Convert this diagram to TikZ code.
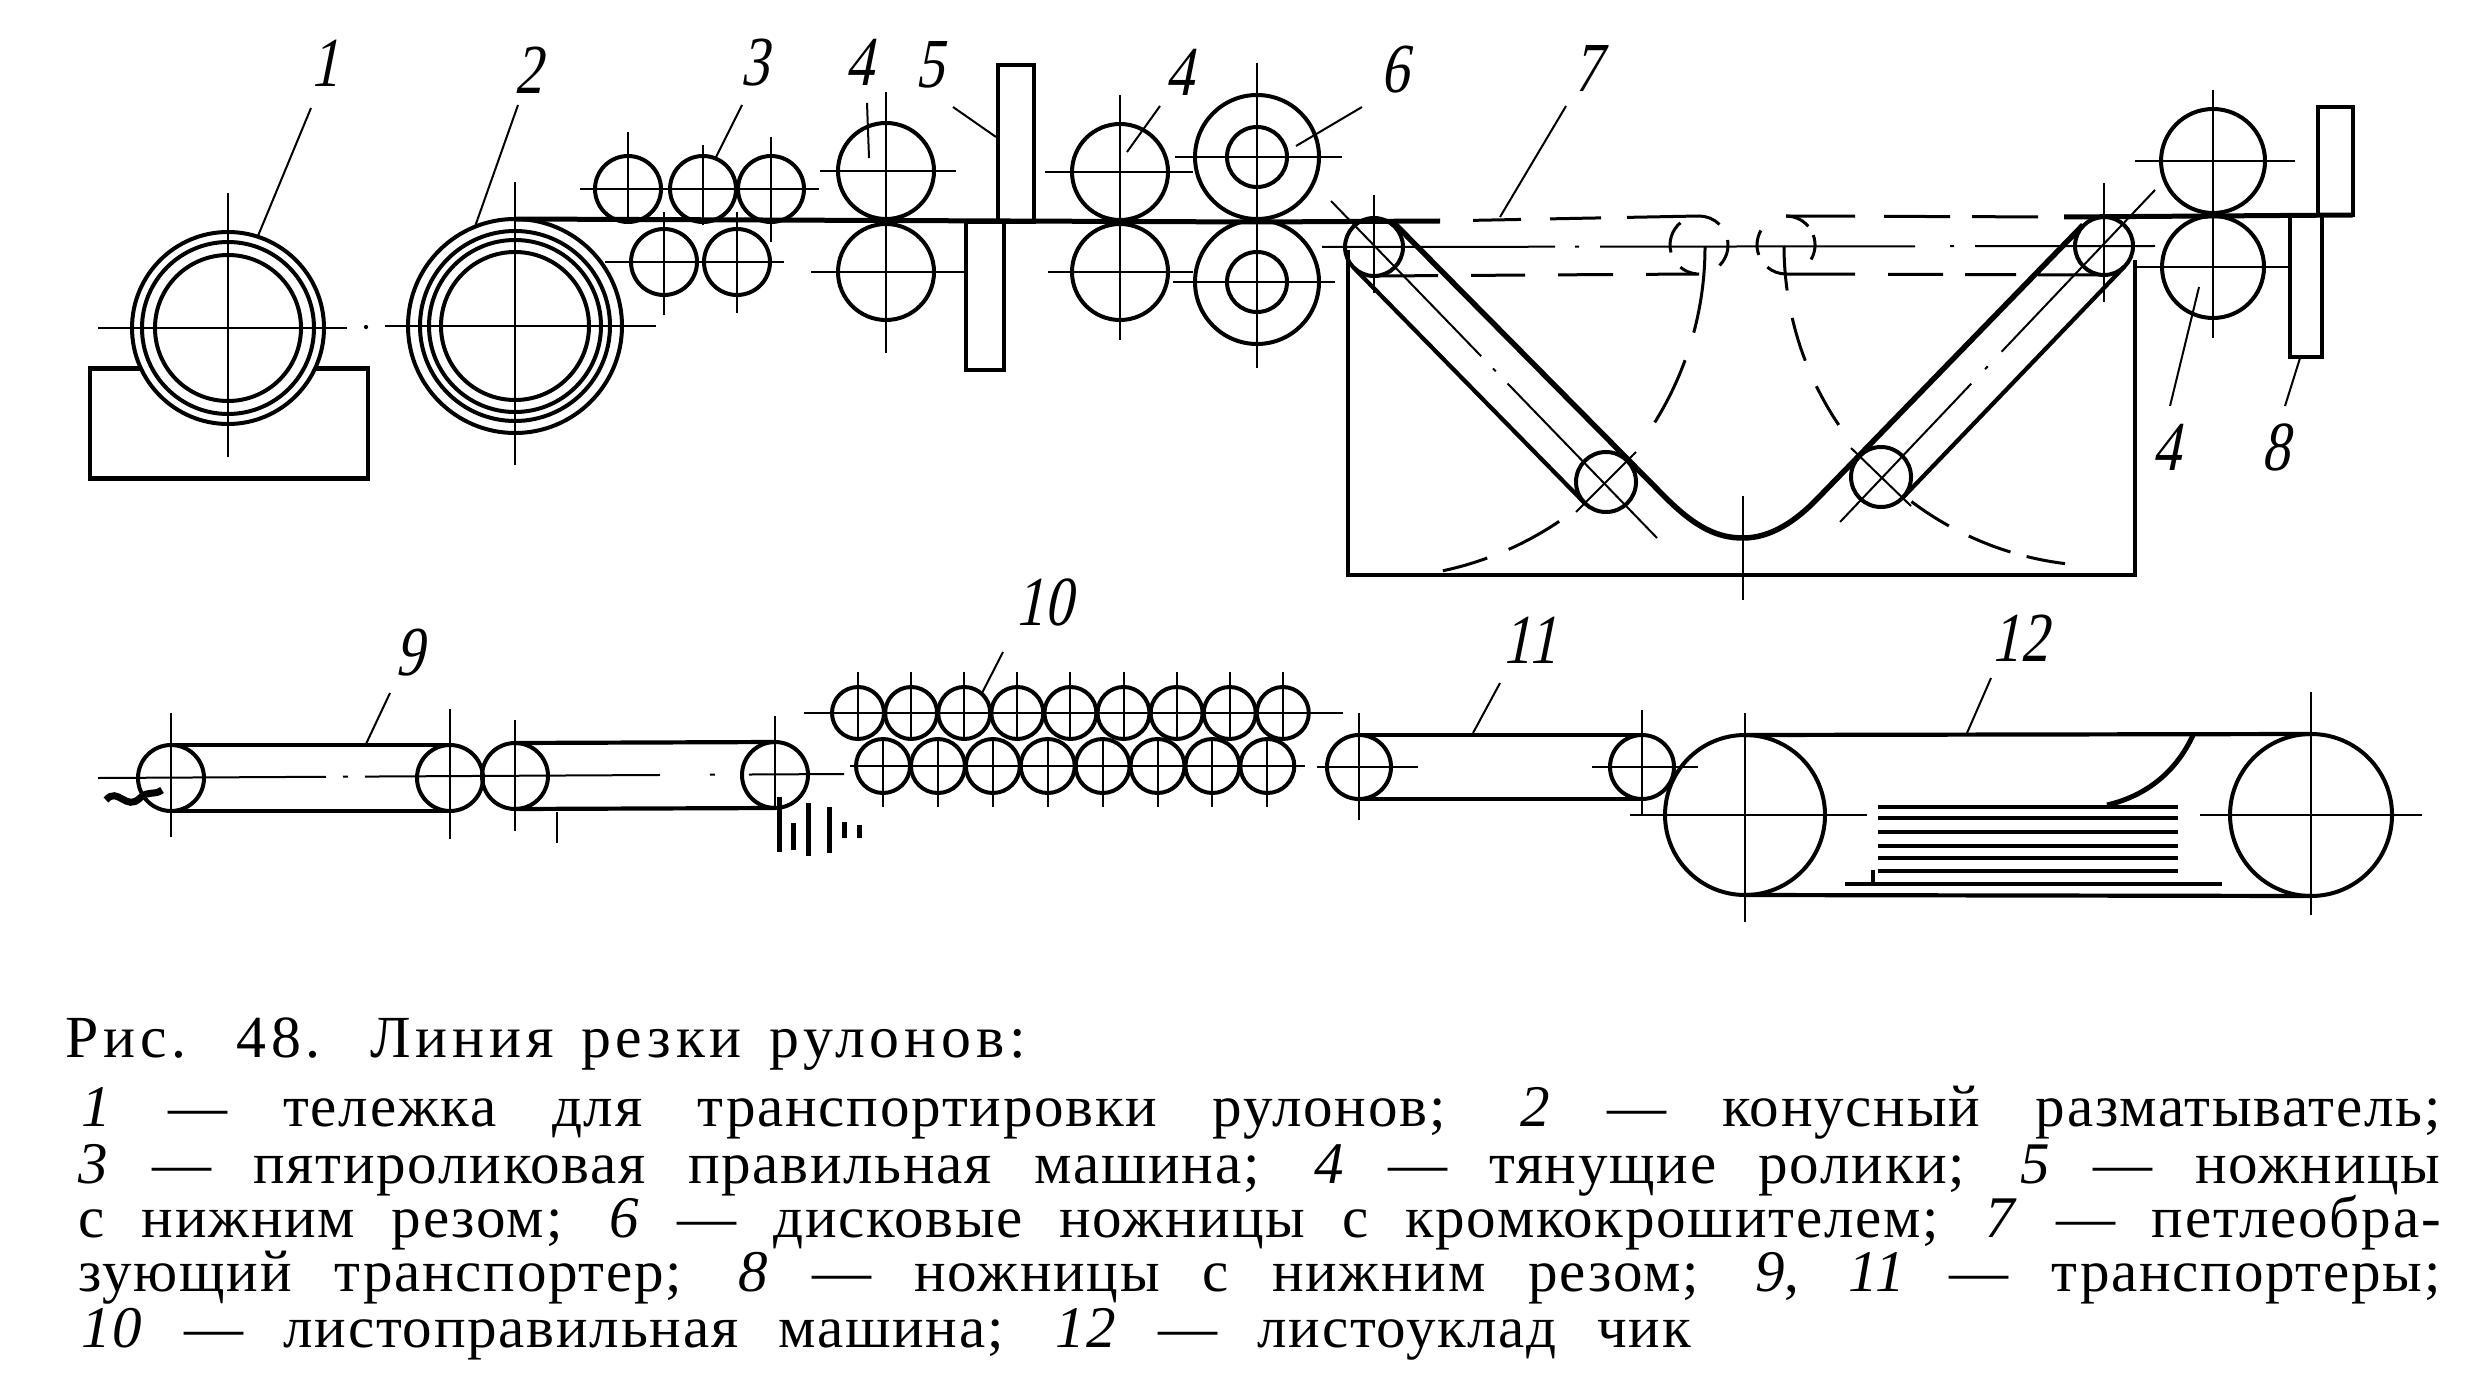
\documentclass[tikz,border=0pt]{standalone}
\usepackage{fontspec}
\setmainfont{Liberation Serif}
\newfontfamily\capfont[LetterSpace=3]{Liberation Serif}
\newfontfamily\titlefont[LetterSpace=8]{Liberation Serif}
\newfontfamily\tagfont[FakeStretch=0.8,FakeSlant=0.2]{Liberation Serif}
\usetikzlibrary{positioning}
\tikzset{	x=0.1mm, y=-0.1mm,
	roller/.style={
		circle,
		draw,
		line width=0.4mm,
		inner sep=0pt,
		outer sep=0pt,
		minimum size=#1},
	swing/.style={
		circle,
		inner sep=0pt,
		outer sep=0pt,
		minimum size=5.8mm},
	blade/.style={
		rectangle,
		draw,
		line width=0.4mm,
		inner sep=0pt},
	axis/.style={line width=0.2mm},
	leader/.style={line width=0.2mm},
	belt/.style={line width=0.42mm},
	strip/.style={line width=0.5mm},
	longdash/.style={line width=0.3mm},
	swingline/.style={line width=0.3mm},
	sheet/.style={line width=0.35mm},
	tagnum/.style={font=\tagfont\fontsize{20}{20}\selectfont, inner sep=0pt},
	capline/.style={font=\capfont\fontsize{16.8}{18}\selectfont, anchor=base west, inner sep=0pt},
	captitle/.style={font=\titlefont\fontsize{17}{18}\selectfont, anchor=base west, inner sep=0pt}
}
\newcommand{\hax}[3]{\draw[axis] (#1.center) ++(-#2,0) -- ++({#2+#3},0);}
\newcommand{\vax}[3]{\draw[axis] (#1.center) ++(0,-#2) -- ++(0,{#2+#3});}
\newcommand{\sweep}[4]{\draw[swingline] (#1.center) ++(#2:#4) arc[start angle=#2, end angle=#3, radius=#4];}
\newcommand{\num}[1]{\textit{#1}}

\begin{document}
\begin{tikzpicture}
	\useasboundingbox (0,0) rectangle (2490,1382);

	% coils
	\node[roller=19.2mm] (coilA) at (228,328) {};
	\node[roller=17.2mm] (coilB) at (coilA) {};
	\node[roller=14.6mm] (coilC) at (coilA) {};
	\node[roller=21.4mm] (drumA) at (515,326) {};
	\node[roller=19mm] (drumB) at (drumA) {};
	\node[roller=17.2mm] (drumC) at (drumA) {};
	\node[roller=14.8mm] (drumD) at (drumA) {};
	\draw[belt] (coilA.-155) -- ++(-51,0) -- ++(0,110) -- ++(278,0) -- ++(0,-110) -- (coilA.-25);
	\vax{coilA}{135}{129}
	\hax{coilA}{130}{119}
	\vax{drumA}{144}{139}
	\hax{drumA}{130}{141}
	\node[circle, fill, inner sep=0.15mm] (gap) at (366,327) {};

	% straightening rollers
	\node[roller=6.6mm] (ruA) at (628,189) {};
	\node[roller=6.6mm] (ruB) at (703,189) {};
	\node[roller=6.6mm] (ruC) at (771,189) {};
	\node[roller=6.6mm] (rlA) at (664,262) {};
	\node[roller=6.6mm] (rlB) at (737,262) {};
	\hax{ruA}{48}{191}
	\hax{rlA}{59}{120}
	\vax{ruA}{57}{34}
	\vax{ruB}{44}{36}
	\vax{ruC}{52}{53}
	\vax{rlA}{50}{53}
	\vax{rlB}{50}{51}

	% pull rollers and knives
	\node[roller=9.6mm] (pullA) at (886,171) {};
	\node[roller=9.6mm] (pullB) at (886,272) {};
	\vax{pullA}{79}{182}
	\hax{pullA}{66}{70}
	\hax{pullB}{75}{78}
	\node[blade, minimum width=3.6mm, minimum height=15.7mm] (kniA) at (1015.5,144) {};
	\node[blade, minimum width=3.8mm, minimum height=14.8mm] (kniB) at (984.5,296) {};

	\node[roller=9.6mm] (pullC) at (1120,172) {};
	\node[roller=9.6mm] (pullD) at (1120,272) {};
	\vax{pullC}{77}{168}
	\hax{pullC}{75}{73}
	\hax{pullD}{72}{73}
	\node[roller=12.4mm] (diskA) at (1257,157) {};
	\node[roller=6mm] (diskB) at (diskA) {};
	\node[roller=12.4mm] (diskC) at (1257,282) {};
	\node[roller=6mm] (diskD) at (diskC) {};
	\vax{diskA}{94}{211}
	\hax{diskA}{82}{85}
	\hax{diskC}{84}{78}

	% loop transporter
	\node[roller=5.8mm] (topL) at (1374,247) {};
	\node[roller=5.8mm] (topR) at (2104,246) {};
	\node[roller=6mm] (lowL) at (1606,482) {};
	\node[roller=6mm] (lowR) at (1881,477) {};
	\node[swing] (swL) at (1699,245) {};
	\node[swing] (swR) at (1786,245) {};
	\coordinate (stripA) at (1440,221);
	\coordinate (stripB) at (2064,217);
	\coordinate (stripE) at (2353,215);
	\draw[strip] (drumA.north) -- (1257,222) -- (stripA);
	\draw[strip] (stripB) -- (stripE);
	\draw[longdash, dash pattern=on 0mm off 3.3mm on 4.8mm off 2.9mm on 5.1mm off 2.6mm on 8mm] (stripA) -- (swL.north);
	\draw[longdash, dash pattern=on 6.9mm off 2.9mm on 6.6mm off 2.2mm on 6.6mm off 2.6mm on 1mm] (swR.north) -- (stripB);
	\draw[longdash, dash pattern=on 6.4mm off 3.3mm on 5.4mm off 3.3mm on 5.5mm off 3.3mm on 5.5mm] (topL.south) -- (swL.south);
	\draw[longdash, dash pattern=on 6.9mm off 3.3mm on 5.5mm off 2.2mm on 5.1mm off 2.2mm on 6.6mm] (swR.south) -- (topR.south);
	\coordinate (midA) at (1322,247);
	\coordinate (midB) at (2155,246);
	\draw[axis, dash pattern=on 23.3mm off 2mm on .4mm off 2.1mm on 31.5mm off 3.5mm on .4mm off 2.1mm on 18mm] (midA) -- (midB);

	\coordinate (uA) at (1393,222);
	\coordinate (uB) at (1665,497);
	\coordinate (uC) at (1743,538);
	\coordinate (uD) at (1818,498);
	\coordinate (uE) at (2083,225);
	\draw[line width=0.55mm] (uA) -- (uB) .. controls (1695,527) and (1717,538) .. (uC) .. controls (1770,538) and (1795,522) .. (uD) -- (uE);
	\draw[belt] (topL.-135) -- (lowL.-135);
	\draw[belt] (topR.-45) -- (lowR.-45);

	\coordinate (axA) at (1331,201);
	\coordinate (axB) at (1657,538);
	\coordinate (axC) at (2155,190);
	\coordinate (axD) at (1840,522);
	\draw[axis, dash pattern=on 21.6mm off 1.7mm on .4mm off 1.7mm on 22mm] (axA) -- (axB);
	\draw[axis, dash pattern=on 22.3mm off 2mm on .4mm off 2mm on 20mm] (axC) -- (axD);
	\vax{topL}{52}{46}
	\vax{topR}{63}{56}
	\draw[axis] (lowL.center) ++(30,-30) -- ++(-60,60);
	\draw[axis] (lowR.center) ++(-30,-29) -- ++(60,58);

	% swing paths
	\sweep{swL}{130}{195}{2.9mm}
	\sweep{swL}{10}{-45}{2.9mm}
	\sweep{swL}{90}{45}{2.9mm}
	\sweep{swL}{-130}{-95}{2.9mm}
	\sweep{swR}{150}{200}{2.9mm}
	\sweep{swR}{-130}{-90}{2.9mm}
	\sweep{swR}{90}{40}{2.9mm}
	\sweep{swR}{20}{-30}{2.9mm}
	\sweep{topL}{0}{-15}{33.1mm}
	\sweep{topL}{-20}{-32}{33.1mm}
	\sweep{topL}{-56}{-66}{33.1mm}
	\sweep{topL}{-70}{-78}{33.1mm}
	\sweep{topR}{180}{188}{32mm}
	\sweep{topR}{193}{201}{32mm}
	\sweep{topR}{206}{214}{32mm}
	\sweep{topR}{233}{241}{32mm}
	\sweep{topR}{245}{253}{32mm}
	\sweep{topR}{256}{263}{32mm}

	% frame
	\coordinate (frA) at (1348,250);
	\coordinate (frB) at (1348,575);
	\coordinate (frC) at (2135,575);
	\coordinate (frD) at (2135,260);
	\draw[belt] (frA) -- (frB) -- (frC) -- (frD);
	\vax{uC}{42}{62}

	% right pull rollers and knife
	\node[roller=10.4mm] (pullE) at (2213,161) {};
	\node[roller=10.2mm] (pullF) at (2213,267) {};
	\vax{pullE}{71}{177}
	\hax{pullE}{78}{82}
	\hax{pullF}{76}{77}
	\node[blade, minimum width=3.5mm, minimum height=10.8mm] (kniC) at (2335.5,161) {};
	\node[blade, minimum width=3.2mm, minimum height=14.2mm] (kniD) at (2306,286) {};

	% lower transporters
	\node[roller=6.6mm] (trA) at (171,778) {};
	\node[roller=6.6mm] (trB) at (450,778) {};
	\node[roller=6.6mm] (trC) at (515,776) {};
	\node[roller=6.6mm] (trD) at (775,775) {};
	\draw[belt] (trA.north) -- (trB.north);
	\draw[belt] (trA.south) -- (trB.south);
	\draw[belt] (trC.north) -- (trD.north);
	\draw[belt] (trC.south) -- (trD.south);
	\coordinate (lineA) at (98,778);
	\coordinate (lineB) at (844,774);
	\draw[axis, dash pattern=on 22.8mm off 1.7mm on .5mm off 1.7mm on 29.5mm off 5mm on .5mm off 3.4mm on 20mm] (lineA) -- (lineB);
	\vax{trA}{65}{59}
	\vax{trB}{69}{61}
	\vax{trC}{56}{55}
	\vax{trD}{59}{32}
	\coordinate (tickA) at (557,812);
	\coordinate (tickB) at (557,843);
	\draw[axis] (tickA) -- (tickB);
	\foreach \x/\a/\b in {779/797/852,793/823/850,808/803/856,829/807/853,844/822/838,859/825/838}
		\draw[line width=0.5mm] (\x,\a) -- (\x,\b);
	\draw[line width=0.7mm] (106,800) .. controls (118,786) and (126,812) .. (140,798) .. controls (148,790) and (154,796) .. (162,790);

	% leveller
	\begin{scope}[node distance=5.31mm]
		\node[roller=5.2mm] (upA) at (858,713) {};
		\node[roller=5.2mm, right of = upA] (upB) {};
		\node[roller=5.2mm, right of = upB] (upC) {};
		\node[roller=5.2mm, right of = upC] (upD) {};
		\node[roller=5.2mm, right of = upD] (upE) {};
		\node[roller=5.2mm, right of = upE] (upF) {};
		\node[roller=5.2mm, right of = upF] (upG) {};
		\node[roller=5.2mm, right of = upG] (upH) {};
		\node[roller=5.2mm, right of = upH] (upI) {};
	\end{scope}
	\begin{scope}[node distance=5.49mm]
		\node[roller=5.4mm] (dnA) at (883,766) {};
		\node[roller=5.4mm, right of = dnA] (dnB) {};
		\node[roller=5.4mm, right of = dnB] (dnC) {};
		\node[roller=5.4mm, right of = dnC] (dnD) {};
		\node[roller=5.4mm, right of = dnD] (dnE) {};
		\node[roller=5.4mm, right of = dnE] (dnF) {};
		\node[roller=5.4mm, right of = dnF] (dnG) {};
		\node[roller=5.4mm, right of = dnG] (dnH) {};
	\end{scope}
	\hax{upA}{54}{485}
	\hax{dnA}{33}{422}
	\vax{upA}{41}{27}
	\vax{upB}{41}{27}
	\vax{upC}{41}{27}
	\vax{upD}{41}{27}
	\vax{upE}{41}{27}
	\vax{upF}{41}{27}
	\vax{upG}{41}{27}
	\vax{upH}{41}{27}
	\vax{upI}{41}{27}
	\vax{dnA}{29}{41}
	\vax{dnB}{29}{41}
	\vax{dnC}{29}{41}
	\vax{dnD}{29}{41}
	\vax{dnE}{29}{41}
	\vax{dnF}{29}{41}
	\vax{dnG}{29}{41}
	\vax{dnH}{29}{41}

	% transporter and stacker
	\node[roller=6.4mm] (trE) at (1359,767) {};
	\node[roller=6.4mm] (trF) at (1642,767) {};
	\draw[belt] (trE.north) -- (trF.north);
	\draw[belt] (trE.south) -- (trF.south);
	\hax{trE}{42}{59}
	\hax{trF}{50}{56}
	\vax{trE}{54}{53}
	\vax{trF}{57}{48}
	\node[roller=16mm] (stkA) at (1745,815) {};
	\node[roller=16.2mm] (stkB) at (2311,815) {};
	\draw[belt] (stkA.north) -- (stkB.north);
	\draw[belt] (stkA.south) -- (stkB.south);
	\hax{stkA}{115}{122}
	\hax{stkB}{111}{111}
	\vax{stkA}{102}{107}
	\vax{stkB}{123}{100}
	\coordinate (chuA) at (2193,735);
	\coordinate (chuB) at (2107,805);
	\draw[line width=0.5mm] (chuA) .. controls (2178,768) and (2150,795) .. (chuB);
	\foreach \y in {807,818,832,846,858,871}
		\draw[sheet] (1878,\y) -- (2178,\y);
	\coordinate (sheetA) at (1845,884);
	\coordinate (sheetB) at (2222,884);
	\draw[sheet] (sheetA) -- (sheetB);
	\coordinate (stopA) at (1873,870);
	\coordinate (stopB) at (1873,884);
	\draw[line width=0.4mm] (stopA) -- (stopB);

	% numbers and leaders
	\node[tagnum] (tagA) at (325,63) {1};
	\coordinate (aA) at (311,108);
	\draw[leader] (aA) -- (coilA.72);
	\node[tagnum] (tagB) at (529,70) {2};
	\coordinate (aB) at (518,105);
	\draw[leader] (aB) -- (drumA.112);
	\node[tagnum] (tagC) at (755,63) {3};
	\coordinate (aC) at (742,105);
	\draw[leader] (aC) -- (ruB.68);
	\node[tagnum] (tagD) at (860,62) {4};
	\coordinate (aD) at (867,103);
	\coordinate (bD) at (869,158);
	\draw[leader] (aD) -- (bD);
	\node[tagnum] (tagE) at (930,65) {5};
	\coordinate (aE) at (953,107);
	\coordinate (bE) at (996,137);
	\draw[leader] (aE) -- (bE);
	\node[tagnum] (tagF) at (1180,72) {4};
	\coordinate (aF) at (1160,106);
	\coordinate (bF) at (1127,152);
	\draw[leader] (aF) -- (bF);
	\node[tagnum] (tagG) at (1395,70) {6};
	\coordinate (aG) at (1362,107);
	\coordinate (bG) at (1296,146);
	\draw[leader] (aG) -- (bG);
	\node[tagnum] (tagH) at (1588,68) {7};
	\coordinate (aH) at (1566,106);
	\coordinate (bH) at (1500,217);
	\draw[leader] (aH) -- (bH);
	\node[tagnum] (tagI) at (2167,447) {4};
	\coordinate (aI) at (2170,406);
	\coordinate (bI) at (2199,287);
	\draw[leader] (aI) -- (bI);
	\node[tagnum] (tagJ) at (2276,447) {8};
	\coordinate (aJ) at (2285,406);
	\coordinate (bJ) at (2300,358);
	\draw[leader] (aJ) -- (bJ);
	\node[tagnum] (tagK) at (410,653) {9};
	\coordinate (aK) at (390,693);
	\coordinate (bK) at (366,744);
	\draw[leader] (aK) -- (bK);
	\node[tagnum] (tagL) at (1044,602) {10};
	\coordinate (aL) at (1003,652);
	\coordinate (bL) at (982,693);
	\draw[leader] (aL) -- (bL);
	\node[tagnum] (tagM) at (1530,640) {11};
	\coordinate (aM) at (1500,683);
	\coordinate (bM) at (1473,733);
	\draw[leader] (aM) -- (bM);
	\node[tagnum] (tagN) at (2020,638) {12};
	\coordinate (aN) at (1991,678);
	\coordinate (bN) at (1967,733);
	\draw[leader] (aN) -- (bN);

	% caption
	\node[captitle] (title) at (65,1057) {\makebox[96mm][s]{Рис. 48. Линия резки рулонов:}};
	\node[capline] (lineO) at (81,1126) {\makebox[235.9mm][s]{\num{1} — тележка для транспортировки рулонов; \num{2} — конусный разматыватель;}};
	\node[capline] (lineP) at (78,1183) {\makebox[236.2mm][s]{\num{3} — пятироликовая правильная машина; \num{4} — тянущие ролики; \num{5} — ножницы}};
	\node[capline] (lineQ) at (78,1237) {\makebox[236.2mm][s]{с нижним резом; \num{6} — дисковые ножницы с кромкокрошителем; \num{7} — петлеобра-}};
	\node[capline] (lineR) at (78,1291) {\makebox[236.2mm][s]{зующий транспортер; \num{8} — ножницы с нижним резом; \num{9}, \num{11} — транспортеры;}};
	\node[capline] (lineS) at (81,1347) {\makebox[160.9mm][s]{\num{10} — листоправильная машина; \num{12} — листоуклад чик}};
\end{tikzpicture}
\end{document}
